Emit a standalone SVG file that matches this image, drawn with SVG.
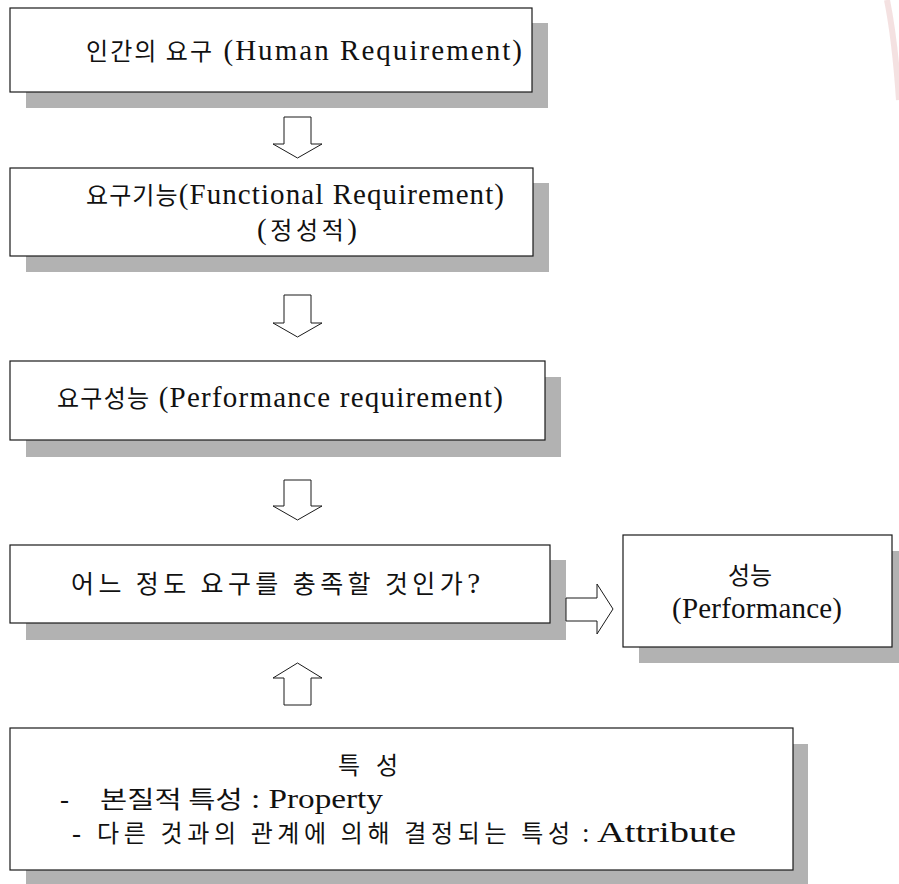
<svg xmlns="http://www.w3.org/2000/svg" width="899" height="884" viewBox="0 0 899 884">
<style>
  .box { fill: #ffffff; stroke: #1a1a1a; stroke-width: 1.2; }
  .shadow { fill: #b2b2b2; stroke: none; }
  .arrow { fill: #ffffff; stroke: #1a1a1a; stroke-width: 1; stroke-linejoin: miter; }
  .t { font-family: 'Liberation Serif', 'Times New Roman', 'Noto Sans CJK KR', serif; font-size: 29px; fill: #111111; }
  .k { font-family: 'Noto Sans CJK KR', sans-serif; font-size: 24px; }
  .k2 { font-family: 'Noto Sans CJK KR', sans-serif; font-size: 25px; }
  .b { font-size: 27px; }
</style>
<rect width="899" height="884" fill="#ffffff"/>
<path d="M887 0 Q895 40 899 100" fill="none" stroke="#e6bcbc" stroke-width="6" opacity="0.45"/>

<g id="node-human">
  <rect class="shadow" x="26" y="23" width="522" height="85"/>
  <rect class="box" x="10" y="8" width="522" height="84"/>
  <text class="t" x="86" y="60" textLength="436" lengthAdjust="spacing"><tspan class="k">인간의 요구</tspan> (Human Requirement)</text>
</g>

<g id="node-functional">
  <rect class="shadow" x="26" y="183" width="523" height="89"/>
  <rect class="box" x="10" y="168" width="523" height="88"/>
  <text class="t" x="86" y="204" textLength="418" lengthAdjust="spacing"><tspan class="k">요구기능</tspan>(Functional Requirement)</text>
  <text class="t" x="257" y="239" textLength="100" lengthAdjust="spacing">(<tspan class="k">정성적</tspan>)</text>
</g>

<g id="node-performance-req">
  <rect class="shadow" x="26" y="377" width="535" height="80"/>
  <rect class="box" x="10" y="361" width="535" height="79"/>
  <text class="t" x="57" y="407" textLength="446" lengthAdjust="spacing"><tspan class="k">요구성능</tspan> (Performance requirement)</text>
</g>

<g id="node-question">
  <rect class="shadow" x="26" y="560" width="540" height="80"/>
  <rect class="box" x="10" y="545" width="540" height="78"/>
  <text class="t" x="71" y="593" textLength="409" lengthAdjust="spacing"><tspan class="k2">어느 정도 요구를 충족할 것인가</tspan>?</text>
</g>

<g id="node-performance">
  <rect class="shadow" x="639" y="551" width="270" height="112"/>
  <rect class="box" x="623" y="535" width="269" height="112"/>
  <text class="t" x="750" y="584" text-anchor="middle"><tspan class="k">성능</tspan></text>
  <text class="t" x="672" y="618" textLength="170" lengthAdjust="spacing">(Performance)</text>
</g>

<g id="node-characteristics">
  <rect class="shadow" x="26" y="744" width="782" height="142"/>
  <rect class="box" x="10" y="728" width="783" height="142"/>
  <text class="t k" x="338" y="774" textLength="60" lengthAdjust="spacing">특 성</text>
  <text class="t b" x="60" y="808">-</text>
  <text class="t b" x="100" y="808" textLength="283" lengthAdjust="spacingAndGlyphs"><tspan class="k">본질적 특성</tspan> : Property</text>
  <text class="t b" x="72" y="842">-</text>
  <text class="t k" x="97" y="842" textLength="473" lengthAdjust="spacing">다른 것과의 관계에 의해 결정되는 특성</text>
  <text class="t b" x="582" y="842">:</text>
  <text class="t" x="597" y="842" textLength="139" lengthAdjust="spacingAndGlyphs">Attribute</text>
</g>

<g id="connectors">
  <polygon class="arrow" points="284,117 311,117 311,144 322,144 297.5,158 273,144 284,144"/>
  <polygon class="arrow" points="284,295 311,295 311,323 322,323 297.5,337 273,323 284,323"/>
  <polygon class="arrow" points="284,480 311,480 311,506 322,506 297.5,520 273,506 284,506"/>
  <polygon class="arrow" points="284,705 311,705 311,678 322,678 297.5,663 273,678 284,678"/>
  <polygon class="arrow" points="566,598 597,598 597,584 613,609 597,634 597,621 566,621"/>
</g>
</svg>
